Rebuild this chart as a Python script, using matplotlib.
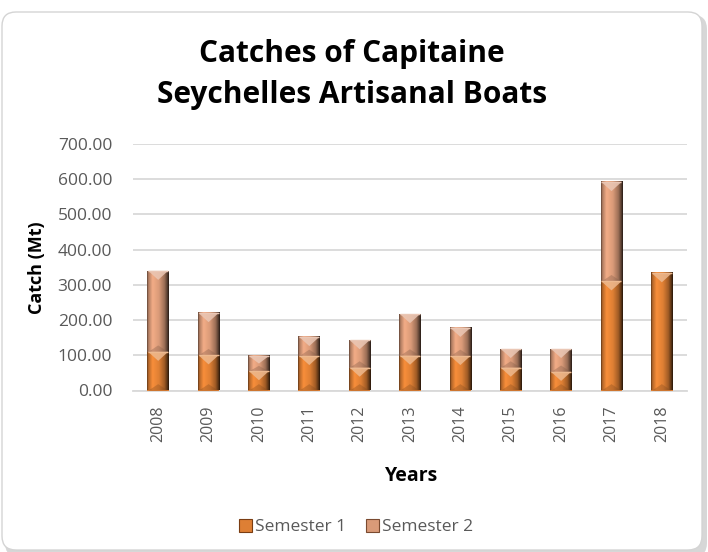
import numpy as np
import matplotlib
matplotlib.use("Agg")
import matplotlib.pyplot as plt
from matplotlib.patches import Polygon, FancyBboxPatch, Patch
from matplotlib.colors import to_rgb

plt.rcParams['font.family'] = ['Open Sans', 'DejaVu Sans']

# ---- data ----
years = ['2008', '2009', '2010', '2011', '2012', '2013', '2014', '2015', '2016', '2017', '2018']
semester1 = [110, 100, 55, 98, 65, 99, 98, 65, 53, 310, 333]
semester2 = [230, 120, 43, 54, 78, 118, 80, 53, 65, 282, 0]
series_names = ['Semester 1', 'Semester 2']
yticks = [0, 100, 200, 300, 400, 500, 600, 700]
title_lines = ["Catches of Capitaine", "Seychelles Artisanal Boats"]

# ---- style ----
W, H = 708, 552
col1 = '#DE7F34'
col2 = '#D99A78'
bar_w = 0.43
grey_txt = '#595959'

fig = plt.figure(figsize=(W / 100, H / 100), dpi=100)

# chart frame with soft shadow
shadow = FancyBboxPatch((0.05, -0.05), 7.02, 5.42, boxstyle="round,pad=0,rounding_size=0.14",
                        transform=fig.dpi_scale_trans, facecolor='#bdbdbd', edgecolor='none',
                        alpha=0.6, zorder=0)
frame = FancyBboxPatch((0.02, 0.02), 7.0, 5.38, boxstyle="round,pad=0,rounding_size=0.14",
                       transform=fig.dpi_scale_trans, facecolor='white', edgecolor='#d4d4d4',
                       linewidth=1.0, zorder=1)
fig.patches.extend([shadow, frame])

ax_l, ax_r, ax_t, ax_b = 133, 687, 144, 390.5
ax = fig.add_axes([ax_l / W, 1 - ax_b / H, (ax_r - ax_l) / W, (ax_b - ax_t) / H])
ax.set_facecolor('none')
ax.set_zorder(2)

x = np.arange(len(years))
ax.set_xlim(-0.5, len(years) - 0.5)
ax.set_ylim(0, 700)

bars1 = ax.bar(x, semester1, bar_w, color=col1, zorder=3, label=series_names[0])
bars2 = ax.bar(x, semester2, bar_w, bottom=semester1, color=col2, zorder=3, label=series_names[1])

# pixel scale for bevel sizes
px_x = (ax_r - ax_l) / (len(years))
px_y = (ax_b - ax_t) / 700.0

profile_t = np.array([0.0, 0.06, 0.25, 0.55, 0.8, 0.93, 1.0])
profile_f = np.array([0.45, 0.8, 1.12, 1.0, 0.72, 0.4, 0.18])
tt = np.linspace(0, 1, 64)
ff = np.interp(tt, profile_t, profile_f)


def shade(patch, base):
    x0 = patch.get_x()
    w = patch.get_width()
    y0 = patch.get_y()
    h = patch.get_height()
    if h <= 0:
        return
    x1, y1 = x0 + w, y0 + h
    c = np.array(to_rgb(base))
    img = np.clip(c[None, :] * ff[:, None], 0, 1)[None, :, :]
    ax.imshow(img, extent=(x0, x1, y0, y1), aspect='auto', interpolation='bilinear', zorder=3.1)
    w_px = w * px_x
    h_px = h * px_y
    d_px = min(0.42 * w_px, h_px / 2)
    d = d_px / px_y
    xc = x0 + w / 2
    light = np.clip(c + (1 - c) * 0.45, 0, 1)
    ax.add_patch(Polygon([(x0 + w * 0.04, y1), (x1 - w * 0.04, y1), (xc, y1 - d)], closed=True,
                         facecolor=light, edgecolor='none', alpha=0.85, zorder=3.2))
    dark = c * 0.6
    ax.add_patch(Polygon([(x0 + w * 0.06, y0), (x1 - w * 0.06, y0), (xc, y0 + d * 0.7)], closed=True,
                         facecolor=dark, edgecolor='none', alpha=0.35, zorder=3.2))
    ax.plot([x0 + w * 0.04, x1 - w * 0.04], [y1, y1], color=light, lw=1.0, zorder=3.3,
            solid_capstyle='butt')


for p in bars1:
    shade(p, col1)
for p in bars2:
    shade(p, col2)

ax.set_xlim(-0.5, len(years) - 0.5)
ax.set_ylim(0, 700)

ax.set_yticks(yticks)
ax.set_yticklabels([f"{v:.2f}" for v in yticks])
ax.set_xticks(x)
ax.set_xticklabels(years, rotation=90)
ax.tick_params(axis='y', length=0, pad=15, labelsize=12.5, labelcolor=grey_txt)
ax.tick_params(axis='x', length=0, pad=11, labelsize=11.5, labelcolor=grey_txt)
ax.grid(axis='y', color='#d9d9d9', linewidth=1.3, zorder=0)
ax.set_axisbelow(True)
for s in ['top', 'right', 'left']:
    ax.spines[s].set_visible(False)
ax.spines['bottom'].set_color('#d9d9d9')
ax.spines['bottom'].set_linewidth(1.3)

for line, yb in zip(title_lines, [62, 103]):
    fig.text(352 / W, 1 - yb / H, line, ha='center', va='baseline',
             fontsize=21.5, fontweight='bold', color='black', zorder=5)
fig.text(37 / W, 1 - 268 / H, "Catch (Mt)", rotation=90, ha='center', va='center',
         fontsize=13, fontweight='bold', color='black', zorder=5)
fig.text(412 / W, 1 - 476 / H, "Years", ha='center', va='center',
         fontsize=14, fontweight='bold', color='black', zorder=5)

handles = [Patch(facecolor=col1, edgecolor='#7a3d12', linewidth=0.8),
           Patch(facecolor=col2, edgecolor='#7a4a30', linewidth=0.8)]
leg = fig.legend(handles, series_names, loc='center', bbox_to_anchor=(356 / W, 1 - 527 / H),
                 ncol=2, frameon=False, fontsize=12.5, handlelength=0.75, handleheight=0.75,
                 handletextpad=0.2, columnspacing=1.1, labelcolor=grey_txt)

fig.savefig('out.png', dpi=100)
